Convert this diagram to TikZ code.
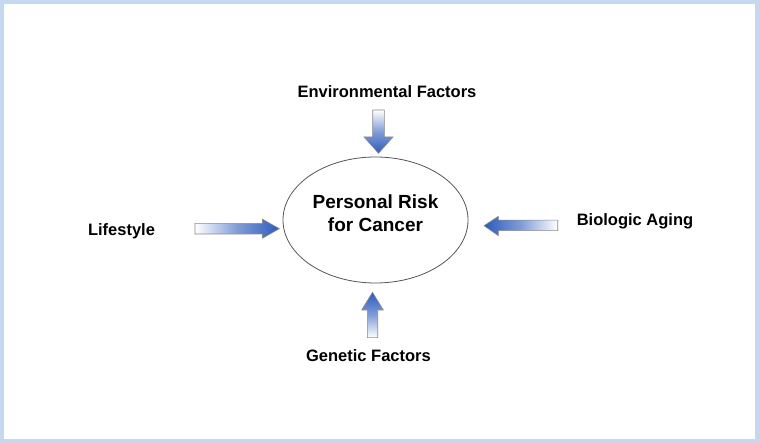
\documentclass[tikz,border=0pt]{standalone}
\usepackage{fontspec}
\setmainfont{Liberation Sans}
\definecolor{framebg}{HTML}{C6D8EF}
\definecolor{arrowblue}{HTML}{2C5BBC}
\definecolor{arrowedge}{HTML}{8A8A8A}
\definecolor{ellipseedge}{HTML}{555555}
\begin{document}
\begin{tikzpicture}[x=1pt,y=-1pt,
  label/.style={font=\bfseries\fontsize{16.5}{19}\selectfont, anchor=base, inner sep=0pt},
  center text/.style={font=\bfseries\fontsize{19}{23}\selectfont, anchor=base, align=center, inner sep=0pt},
  blockarrow/.style={draw=arrowedge, line width=0.6pt, line join=miter}]
\useasboundingbox (0,0) rectangle (760,443);
\fill[framebg] (0,0) rectangle (760,443);
\fill[white] (4,4) rectangle (755,439);

% central ellipse
\draw[ellipseedge, line width=0.8pt] (375.5,220) ellipse [x radius=92.5, y radius=63];
\coordinate (ell) at (375.5,220);
\node[center text] (risk) at (375.5,232) {Personal Risk\\for Cancer};

% labels
\node[label] (env) at (387,97.5) {Environmental Factors};
\node[label] (life) at (121.5,235.7) {Lifestyle};
\node[label] (bio) at (635,225.7) {Biologic Aging};
\node[label] (gen) at (368.5,361) {Genetic Factors};

% arrow from Environmental Factors (down)
\shade[blockarrow, top color=white, bottom color=arrowblue, middle color=arrowblue!60]
  (372.7,110) -- (384.3,110) -- (384.3,137) -- (393,137) -- (378.5,153.3)
  -- (364,137) -- (372.7,137) -- cycle;

% arrow from Lifestyle (right)
\shade[blockarrow, left color=white, right color=arrowblue, middle color=arrowblue!60]
  (195,223.4) -- (262.5,223.4) -- (262.5,219.2) -- (279.3,228.7)
  -- (262.5,238.2) -- (262.5,234) -- (195,234) -- cycle;

% arrow from Biologic Aging (left)
\shade[blockarrow, right color=white, left color=arrowblue, middle color=arrowblue!60]
  (557.7,220.2) -- (498.3,220.2) -- (498.3,216.4) -- (484,225.7)
  -- (498.3,235.6) -- (498.3,230.7) -- (557.7,230.7) -- cycle;

% arrow from Genetic Factors (up)
\shade[blockarrow, bottom color=white, top color=arrowblue, middle color=arrowblue!60]
  (367.3,337.7) -- (377.7,337.7) -- (377.7,310) -- (383.3,310) -- (372.5,292.3)
  -- (361.7,310) -- (367.3,310) -- cycle;
\end{tikzpicture}
\end{document}
